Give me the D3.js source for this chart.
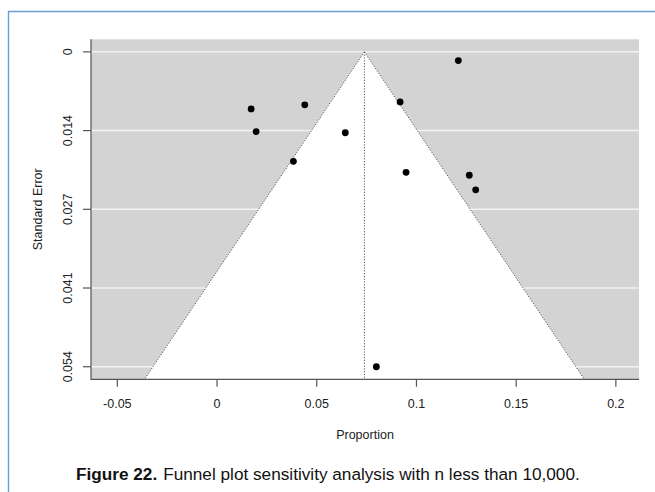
<!DOCTYPE html>
<html>
<head>
<meta charset="utf-8">
<script src="https://cdn.jsdelivr.net/npm/d3@7"></script>
<style>
  html, body { margin: 0; padding: 0; background: #fff; }
  svg { display: block; }
</style>
</head>
<body>
<svg id="chart" width="655" height="492"></svg>
<script>
// Study-level proportions and their standard errors
const proportion = [0.0171, 0.0440, 0.0196, 0.0643, 0.0383, 0.0918, 0.0948, 0.1210, 0.1265, 0.1297, 0.0799];
const stdError   = [0.0098, 0.0091, 0.0137, 0.0139, 0.0188, 0.0086, 0.0207, 0.0015, 0.0212, 0.0237, 0.0541];

// Pooled estimate (centre of the funnel)
const pooled = 0.0739;
const zCrit = 1.96;

// Axis ticks
const xTicks = [-0.05, 0, 0.05, 0.1, 0.15, 0.2];
const xTickLabels = ["-0.05", "0", "0.05", "0.1", "0.15", "0.2"];
const seMax = 0.0541;
const yTicks = [0, seMax / 4, seMax / 2, 3 * seMax / 4, seMax];
const yTickLabels = ["0", "0.014", "0.027", "0.041", "0.054"];

const xLim = [-0.0632, 0.2116];
const yLim = [-0.00216, 0.05626];

const svg = d3.select("#chart");
const W = 655, H = 492;
const plot = { left: 91, right: 639, top: 39.3, bottom: 379.3 };

const x = d3.scaleLinear().domain(xLim).range([plot.left, plot.right]);
const y = d3.scaleLinear().domain(yLim).range([plot.top, plot.bottom]);

const font = "'Liberation Sans', Arial, Helvetica, sans-serif";
const textCol = "#222";
const axisCol = "#555";

// Page frame
svg.append("path")
  .attr("d", `M8.5,${H} L8.5,11.5 L${W},11.5`)
  .attr("fill", "none")
  .attr("stroke", "#6a9fd8")
  .attr("stroke-width", 1.4);

// Plot background
svg.append("rect")
  .attr("x", plot.left).attr("y", plot.top)
  .attr("width", plot.right - plot.left)
  .attr("height", plot.bottom - plot.top)
  .attr("fill", "#d3d3d3");

// Horizontal grid lines at the SE ticks
svg.append("g").selectAll("line").data(yTicks).join("line")
  .attr("x1", plot.left).attr("x2", plot.right)
  .attr("y1", d => y(d)).attr("y2", d => y(d))
  .attr("stroke", "#f2f2f2").attr("stroke-width", 1.5);

// Pseudo confidence region (white funnel)
const seBottom = yLim[1];
const funnel = [
  [pooled, 0],
  [pooled - zCrit * seBottom, seBottom],
  [pooled + zCrit * seBottom, seBottom]
];
svg.append("path")
  .attr("d", d3.line().x(d => x(d[0])).y(d => y(d[1]))(funnel) + "Z")
  .attr("fill", "#fff");

// Funnel edges and centre line (dotted)
const dotted = { stroke: "#555", "stroke-width": 1, "stroke-dasharray": "1.2,1.6" };
function dottedLine(x1, y1, x2, y2) {
  const l = svg.append("line")
    .attr("x1", x(x1)).attr("y1", y(y1)).attr("x2", x(x2)).attr("y2", y(y2));
  Object.entries(dotted).forEach(([k, v]) => l.attr(k, v));
}
dottedLine(pooled, 0, pooled - zCrit * seBottom, seBottom);
dottedLine(pooled, 0, pooled + zCrit * seBottom, seBottom);
dottedLine(pooled, 0, pooled, seBottom);

// Study points
svg.append("g").selectAll("circle").data(proportion).join("circle")
  .attr("cx", d => x(d))
  .attr("cy", (d, i) => y(stdError[i]))
  .attr("r", 3.4)
  .attr("fill", "#000");

// Axis lines (L-shaped box)
svg.append("path")
  .attr("d", `M${plot.left},${plot.top} L${plot.left},${plot.bottom} L${plot.right},${plot.bottom}`)
  .attr("fill", "none").attr("stroke", axisCol).attr("stroke-width", 1.2);

// X axis
const xAxis = svg.append("g");
xAxis.selectAll("line").data(xTicks).join("line")
  .attr("x1", d => x(d)).attr("x2", d => x(d))
  .attr("y1", plot.bottom).attr("y2", plot.bottom + 7.5)
  .attr("stroke", axisCol).attr("stroke-width", 1.2);
xAxis.selectAll("text").data(xTicks).join("text")
  .attr("x", d => x(d)).attr("y", plot.bottom + 28.5)
  .attr("text-anchor", "middle")
  .attr("font-family", font).attr("font-size", 12.5).attr("fill", textCol)
  .text((d, i) => xTickLabels[i]);

// Y axis
const yAxis = svg.append("g");
yAxis.selectAll("line").data(yTicks).join("line")
  .attr("x1", plot.left - 8).attr("x2", plot.left)
  .attr("y1", d => y(d)).attr("y2", d => y(d))
  .attr("stroke", axisCol).attr("stroke-width", 1.2);
yAxis.selectAll("text").data(yTicks).join("text")
  .attr("transform", d => `translate(${71.5},${y(d)}) rotate(-90)`)
  .attr("text-anchor", "middle")
  .attr("font-family", font).attr("font-size", 12.5).attr("fill", textCol)
  .text((d, i) => yTickLabels[i]);

// Axis titles
svg.append("text")
  .attr("x", (plot.left + plot.right) / 2).attr("y", 439)
  .attr("text-anchor", "middle")
  .attr("font-family", font).attr("font-size", 12.5).attr("fill", textCol)
  .text("Proportion");
svg.append("text")
  .attr("transform", `translate(${42},${(y(0) + y(seMax)) / 2}) rotate(-90)`)
  .attr("text-anchor", "middle")
  .attr("font-family", font).attr("font-size", 12.5).attr("fill", textCol)
  .text("Standard Error");

// Figure caption
const cap = svg.append("text")
  .attr("x", 76).attr("y", 480)
  .attr("font-family", font).attr("font-size", 17.2).attr("fill", "#111");
cap.append("tspan").attr("font-weight", "bold").text("Figure 22.");
cap.append("tspan").attr("dx", 6).text("Funnel plot sensitivity analysis with n less than 10,000.");
</script>
</body>
</html>
